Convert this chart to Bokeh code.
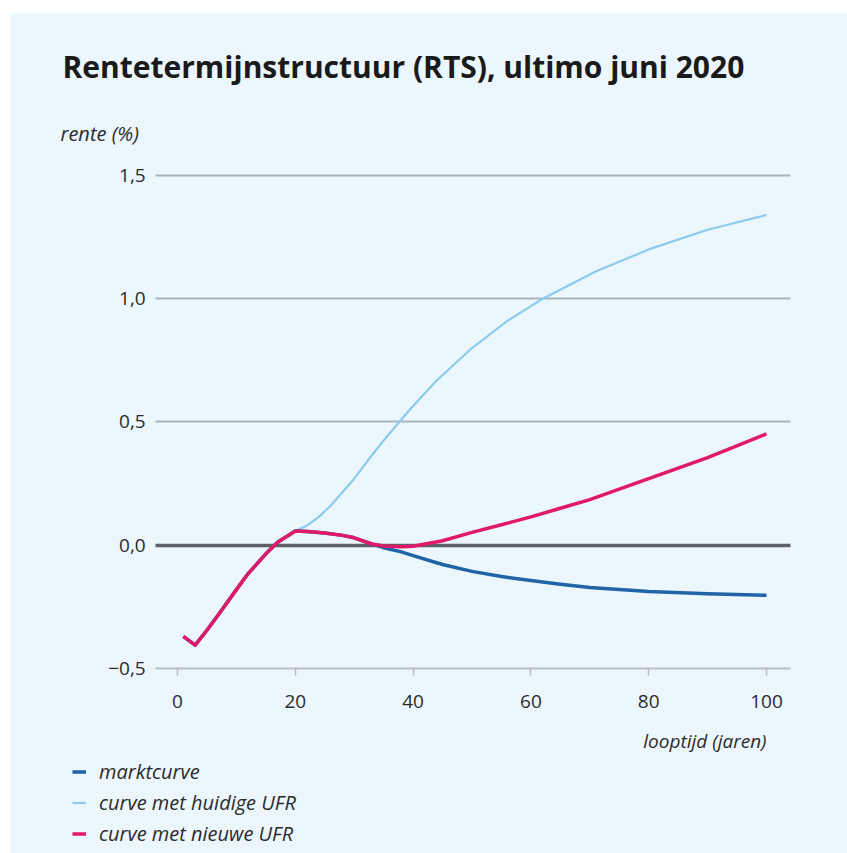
from bokeh.plotting import figure
from bokeh.models import (Label, Legend, LegendItem, FixedTicker, Grid,
                          CustomJSTickFormatter, Range1d)
from bokeh.embed import file_html
from bokeh.resources import INLINE

# ---- data ----
years_markt = [1, 3, 5, 7, 10, 12, 15, 17, 20, 22, 25, 28, 30, 33, 35, 38, 40,
               45, 50, 55, 60, 65, 70, 80, 90, 100]
markt = [-0.37, -0.405, -0.345, -0.28, -0.18, -0.115, -0.035, 0.012, 0.058, 0.056,
         0.05, 0.04, 0.03, 0.005, -0.01, -0.027, -0.042, -0.078, -0.106, -0.127,
         -0.143, -0.158, -0.171, -0.188, -0.197, -0.203]

years_huidig = [1, 3, 5, 7, 10, 12, 15, 17, 20, 22, 24, 26, 28, 30, 33, 35, 38,
                40, 44, 50, 56, 62, 71, 80, 90, 100]
huidig = [-0.37, -0.405, -0.345, -0.28, -0.18, -0.115, -0.035, 0.012, 0.058, 0.08,
          0.115, 0.16, 0.215, 0.27, 0.365, 0.425, 0.51, 0.565, 0.668, 0.80, 0.91,
          1.0, 1.11, 1.2, 1.28, 1.34]

years_nieuw = [1, 3, 5, 7, 10, 12, 15, 17, 20, 22, 25, 28, 30, 33, 35, 38, 40,
               45, 50, 55, 60, 65, 70, 80, 90, 100]
nieuw = [-0.37, -0.405, -0.345, -0.28, -0.18, -0.115, -0.035, 0.012, 0.058, 0.056,
         0.05, 0.04, 0.03, 0.005, -0.003, -0.006, -0.004, 0.018, 0.052, 0.083,
         0.115, 0.15, 0.185, 0.27, 0.355, 0.452]

x_ticks = [0, 20, 40, 60, 80, 100]
y_ticks = [-0.5, 0.0, 0.5, 1.0, 1.5]
grid_ticks = [0.5, 1.0, 1.5]
x_extent = (-3.7, 104)      # horizontal extent of the plotting area
y_extent = (-0.5, 1.5)

title_text = "Rentetermijnstructuur (RTS), ultimo juni 2020"
y_label = "rente (%)"
x_label = "looptijd (jaren)"
series_names = ["marktcurve", "curve met huidige UFR", "curve met nieuwe UFR"]

BG = "#ecf6fd"
C_MARKT = "#1f64a6"
C_HUIDIG = "#8ccbee"
C_NIEUW = "#e0196b"
TXT = "#2b2b2b"
FONT = "Open Sans"

W, H = 847, 853
p = figure(width=W, height=H, output_backend="svg", toolbar_location=None,
           x_range=Range1d(-28.35, 113.75), y_range=Range1d(-1.2505, 2.157),
           min_border=0, min_border_left=10, min_border_top=13, title=None)
p.background_fill_color = BG
p.border_fill_color = "white"
p.outline_line_color = None

# x axis at y = -0.5
p.xaxis.fixed_location = y_extent[0]
p.xaxis.bounds = x_extent
p.xaxis.ticker = FixedTicker(ticks=x_ticks)
p.xaxis.axis_line_color = "#b5bec3"
p.xaxis.axis_line_width = 2
p.xaxis.major_tick_line_color = "#b5bec3"
p.xaxis.major_tick_line_width = 1.5
p.xaxis.major_tick_in = 0
p.xaxis.major_tick_out = 7
p.xaxis.minor_tick_line_color = None
p.xaxis.major_label_text_font = FONT
p.xaxis.major_label_text_font_size = "19px"
p.xaxis.major_label_text_color = TXT
p.xaxis.major_label_standoff = 20

# y axis labels left of the plotting area
p.yaxis.fixed_location = x_extent[0]
p.yaxis.bounds = y_extent
p.yaxis.ticker = FixedTicker(ticks=y_ticks)
p.yaxis.formatter = CustomJSTickFormatter(
    code="return tick.toFixed(1).replace('.', ',').replace('-', '\u2212');")
p.yaxis.axis_line_color = None
p.yaxis.major_tick_line_color = None
p.yaxis.major_tick_in = 0
p.yaxis.major_tick_out = 0
p.yaxis.minor_tick_line_color = None
p.yaxis.major_label_text_font = FONT
p.yaxis.major_label_text_font_size = "19px"
p.yaxis.major_label_text_color = TXT
p.yaxis.major_label_standoff = 10

p.xgrid.grid_line_color = None
p.ygrid.ticker = FixedTicker(ticks=grid_ticks)
p.ygrid.cross_bounds = x_extent
p.ygrid.grid_line_color = "#a9b3b8"
p.ygrid.grid_line_width = 2

zero = Grid(dimension=1, ticker=FixedTicker(ticks=[0.0]), cross_bounds=x_extent,
            grid_line_color="#5c6266", grid_line_width=3.5)
p.add_layout(zero)

r_h = p.line(years_huidig, huidig, line_color=C_HUIDIG, line_width=2.2,
             line_join="round")
r_m = p.line(years_markt, markt, line_color=C_MARKT, line_width=3.5,
             line_join="round")
r_n = p.line(years_nieuw, nieuw, line_color=C_NIEUW, line_width=3.5,
             line_join="round")

legend = Legend(items=[LegendItem(label=series_names[0], renderers=[r_m]),
                       LegendItem(label=series_names[1], renderers=[r_h]),
                       LegendItem(label=series_names[2], renderers=[r_n])],
                location=(62, 6), orientation="vertical",
                background_fill_alpha=0, border_line_color=None,
                padding=0, margin=0, spacing=4, glyph_width=14,
                glyph_height=27, label_height=27, label_standoff=13,
                label_text_font=FONT, label_text_font_style="italic",
                label_text_font_size="20px", label_text_color=TXT)
p.add_layout(legend)

p.add_layout(Label(x=52, y=H - 66, x_units="screen", y_units="screen",
                   text=title_text, text_font=FONT, text_font_style="bold",
                   text_font_size="30px", text_color="#1a1a1a",
                   text_baseline="alphabetic"))
p.add_layout(Label(x=50, y=H - 133, x_units="screen", y_units="screen",
                   text=y_label, text_font=FONT, text_font_style="italic",
                   text_font_size="20px", text_color=TXT,
                   text_baseline="middle"))
p.add_layout(Label(x=756, y=H - 740, x_units="screen", y_units="screen",
                   text=x_label, text_font=FONT, text_font_style="italic",
                   text_font_size="19px", text_color=TXT,
                   text_baseline="middle", text_align="right"))

open("out.html", "w").write(file_html(p, INLINE))
